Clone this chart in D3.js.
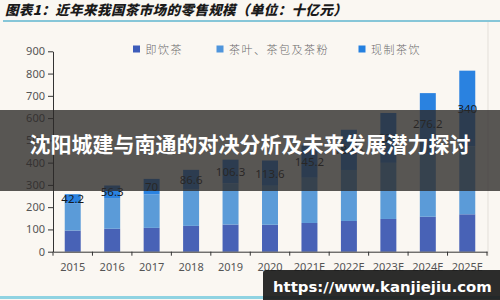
<!DOCTYPE html>
<html><head><meta charset="utf-8">
<script src="https://cdn.jsdelivr.net/npm/d3@7/dist/d3.min.js"></script>
<style>
html,body{margin:0;padding:0;background:#faf7f2;}
svg{display:block;}
</style></head>
<body>
<svg id="c" width="500" height="300"></svg>
<script>
const categories = ["2015","2016","2017","2018","2019","2020","2021E","2022E","2023E","2024E","2025E"];
const seriesNames = ["即饮茶","茶叶、茶包及茶粉","现制茶饮"];
const rtdTea = [95,103,107,116,122,121,129,138,147,157,168];
const leafTea = [121,138,150,165,185,175,203,229,252,279,305];
const freshTea = [42.2,56.3,70,86.6,106.3,113.6,145.2,180.6,224,276.2,340];
const yTicks = [0,100,200,300,400,500,600,700,800,900];
const titleText = "图表1：近年来我国茶市场的零售规模（单位：十亿元）";
const bannerText = "沈阳城建与南通的对决分析及未来发展潜力探讨";
const watermarkText = "https://www.kanjiejiu.com";

const colors = ["#4862b6","#5b9bd8","#2a82e0"];
const legendColors = ["#3d5cba","#4f95dc","#2480e0"];

const svg = d3.select("#c");
const W = 500, H = 300;
svg.append("rect").attr("width",W).attr("height",H).attr("fill","#faf7f2");

// title
svg.append("text").attr("x",5).attr("y",15)
  .attr("font-family","'Noto Sans CJK SC'").attr("font-weight","900")
  .attr("font-style","italic").attr("font-size",13.5).attr("letter-spacing",0.4)
  .attr("fill","#1a1a1a").text(titleText);
svg.append("line").attr("x1",3).attr("x2",W).attr("y1",21).attr("y2",21)
  .attr("stroke","#86c6d8").attr("stroke-width",2);
svg.append("line").attr("x1",0).attr("x2",W).attr("y1",297.5).attr("y2",297.5)
  .attr("stroke","#8fd3e2").attr("stroke-width",3);
// right frame line
svg.append("line").attr("x1",488).attr("x2",488).attr("y1",22).attr("y2",256)
  .attr("stroke","#e3dfd9").attr("stroke-width",1);

const x = d3.scaleBand().domain(categories).range([53,487]).paddingInner(0.595).paddingOuter(0.2975);
const y = d3.scaleLinear().domain([0,900]).range([251.7,51.3]);

// legend
const legendX = [133,216.5,358.5];
seriesNames.forEach((n,i)=>{
  svg.append("rect").attr("x",legendX[i]).attr("y",45.5).attr("width",7).attr("height",7).attr("fill",legendColors[i]);
  svg.append("text").attr("x",legendX[i]+12.5).attr("y",49).attr("dominant-baseline","central")
    .attr("font-family","'Noto Sans CJK SC'").attr("font-weight","300").attr("font-size",11)
    .attr("letter-spacing",1.5).attr("fill","#6a6a6a").text(n);
});

// stacked bars
const rows = categories.map((c,i)=>({cat:c, a:rtdTea[i], b:leafTea[i], c:freshTea[i]}));
const stack = d3.stack().keys(["a","b","c"])(rows);
const g = svg.append("g");
stack.forEach((layer,li)=>{
  g.selectAll(null).data(layer).enter().append("rect")
    .attr("x",d=>x(d.data.cat)).attr("width",x.bandwidth())
    .attr("y",d=>y(d[1])).attr("height",d=>y(d[0])-y(d[1]))
    .attr("fill",colors[li]);
});
// labels on top segment
g.selectAll(null).data(stack[2]).enter().append("text")
  .attr("x",d=>x(d.data.cat)+x.bandwidth()/2)
  .attr("y",d=>(y(d[0])+y(d[1]))/2)
  .attr("text-anchor","middle").attr("dominant-baseline","central")
  .attr("font-family","'Noto Sans', 'DejaVu Sans', sans-serif").attr("font-size",11.5)
  .attr("fill","#1a1a1a").text(d=>d.data.c);

// y axis
const ya = svg.append("g").attr("transform","translate(53,0)")
  .call(d3.axisLeft(y).tickValues(yTicks).tickSize(5).tickSizeOuter(0).tickPadding(3));
ya.select(".domain").attr("stroke","#333");
ya.selectAll(".tick line").attr("stroke","#333");
ya.selectAll("text").attr("font-family","'Noto Sans', sans-serif").attr("font-size",11).attr("fill","#555");

// x axis
const xa = svg.append("g").attr("transform",`translate(0,${y(0)})`)
  .call(d3.axisBottom(x).tickSize(0).tickPadding(12));
xa.select(".domain").attr("stroke","#333");
xa.selectAll("text").attr("font-family","'Noto Sans', sans-serif").attr("font-size",11).attr("fill","#555");
const bounds = categories.map(c=>x(c)-x.step()*x.paddingInner()/2).concat([x.range()[1]]);
xa.selectAll(null).data(bounds).enter().append("line")
  .attr("x1",d=>d).attr("x2",d=>d).attr("y1",0).attr("y2",4).attr("stroke","#333");

// banner overlay
svg.append("rect").attr("x",0).attr("y",110).attr("width",W).attr("height",81)
  .attr("fill","rgba(44,42,40,0.79)");
svg.append("text").attr("x",250).attr("y",143).attr("text-anchor","middle")
  .attr("dominant-baseline","central")
  .attr("font-family","'Noto Sans CJK SC'").attr("font-weight","700").attr("font-size",21)
  .attr("fill","#ffffff").text(bannerText);

// watermark
svg.append("rect").attr("x",263).attr("y",270).attr("width",240).attr("height",33).attr("rx",3)
  .attr("fill","rgba(28,28,28,0.93)");
const wt = svg.append("text").attr("x",273).attr("y",291.5)
  .attr("font-family","'DejaVu Sans'").attr("font-weight","bold").attr("font-size",17)
  .attr("fill","#ffffff").text(watermarkText);
const len = wt.node().getComputedTextLength();
wt.attr("font-size",17*219/len);
</script>
</body></html>
